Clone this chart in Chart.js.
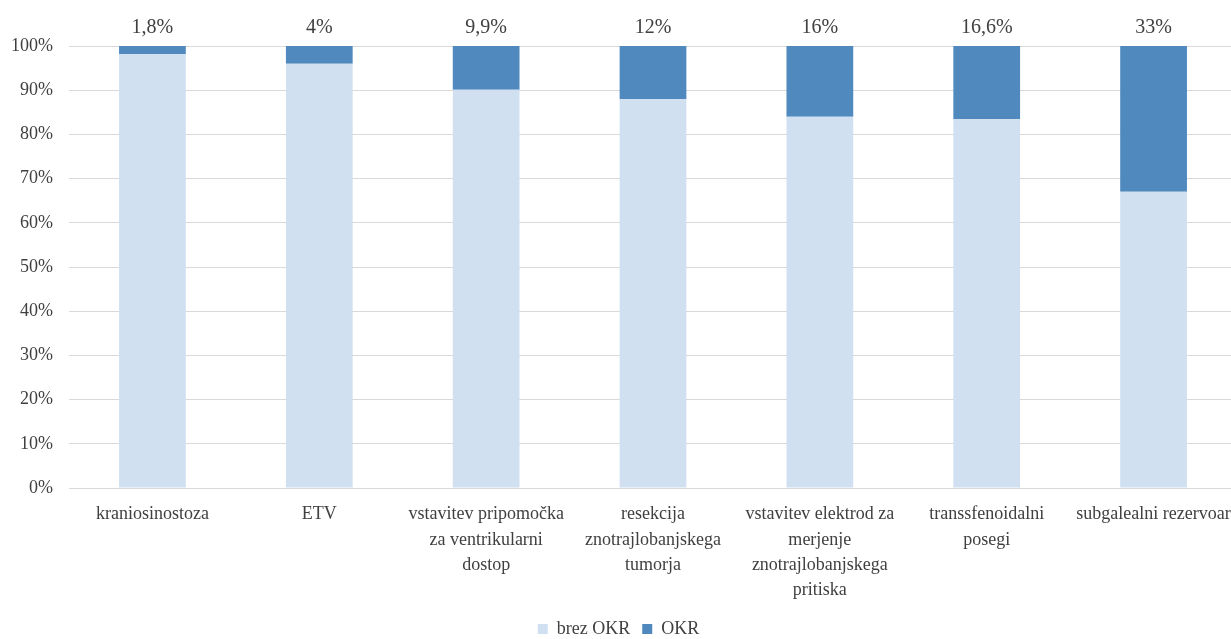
<!DOCTYPE html>
<html>
<head>
<meta charset="utf-8">
<script src="https://cdn.jsdelivr.net/npm/chart.js@4/dist/chart.umd.min.js"></script>
<style>
  html, body { margin: 0; padding: 0; background: #fff; overflow: hidden; }
  #wrap { width: 1231px; height: 639px; overflow: hidden; }
  canvas { display: block; }
</style>
</head>
<body>
<div id="wrap"><canvas id="c" width="1237" height="639"></canvas></div>
<script>
// Procedure categories (multi-line labels as arrays)
const categories = [
  'kraniosinostoza',
  'ETV',
  ['vstavitev pripomočka', 'za ventrikularni', 'dostop'],
  ['resekcija', 'znotrajlobanjskega', 'tumorja'],
  ['vstavitev elektrod za', 'merjenje', 'znotrajlobanjskega', 'pritiska'],
  ['transsfenoidalni', 'posegi'],
  'subgalealni rezervoar'
];

// Share of procedures with OKR (%)
const okr = [1.8, 4, 9.9, 12, 16, 16.6, 33];
// Share without OKR (%)
const brezOkr = [98.2, 96, 90.1, 88, 84, 83.4, 67];

const yTicks = [0, 10, 20, 30, 40, 50, 60, 70, 80, 90, 100];

const TEXT = '#404040';
const GRID = '#d9d9d9';
const FONT = '"Liberation Serif", "Times New Roman", serif';

const fmtPct = v => String(v).replace('.', ',') + '%';

// Writes the OKR share above each column
const topLabels = {
  id: 'topLabels',
  afterDatasetsDraw(chart) {
    const ctx = chart.ctx;
    const meta = chart.getDatasetMeta(1);
    ctx.save();
    ctx.font = '20px ' + FONT;
    ctx.fillStyle = TEXT;
    ctx.textAlign = 'center';
    ctx.textBaseline = 'middle';
    meta.data.forEach((bar, i) => {
      ctx.fillText(fmtPct(okr[i]), bar.x, chart.chartArea.top - 18);
    });
    ctx.restore();
  }
};

new Chart(document.getElementById('c'), {
  type: 'bar',
  data: {
    labels: categories,
    datasets: [
      { label: 'brez OKR', data: brezOkr, backgroundColor: '#d0e0f1', borderWidth: 0 },
      { label: 'OKR', data: okr, backgroundColor: '#4f89bd', borderWidth: 0 }
    ]
  },
  options: {
    responsive: false,
    animation: false,
    devicePixelRatio: 1,
    layout: { padding: { top: 46, left: 0, right: 0, bottom: -9 } },
    datasets: { bar: { barPercentage: 0.4, categoryPercentage: 1 } },
    scales: {
      x: {
        stacked: true,
        grid: { display: false },
        border: { display: false },
        ticks: {
          color: TEXT,
          font: { family: FONT, size: 18, lineHeight: 1.4 },
          padding: 6,
          maxRotation: 0,
          minRotation: 0,
          autoSkip: false
        },
        afterFit(s) { s.height = 120; }
      },
      y: {
        stacked: true,
        min: 0,
        max: 100,
        afterBuildTicks(s) { s.ticks = yTicks.map(v => ({ value: v })); },
        grid: { color: GRID, lineWidth: 1, drawTicks: false },
        border: { display: false },
        ticks: {
          color: TEXT,
          font: { family: FONT, size: 18 },
          padding: 16,
          callback: v => v + '%'
        },
        afterFit(s) { s.width = 69; }
      }
    },
    plugins: {
      legend: {
        position: 'bottom',
        padding: 0,
        labels: {
          color: TEXT,
          font: { family: FONT, size: 18, lineHeight: 1 },
          boxWidth: 10,
          boxHeight: 10,
          padding: 12
        }
      },
      tooltip: { enabled: false },
      title: { display: false }
    }
  },
  plugins: [topLabels]
});
</script>
</body>
</html>
